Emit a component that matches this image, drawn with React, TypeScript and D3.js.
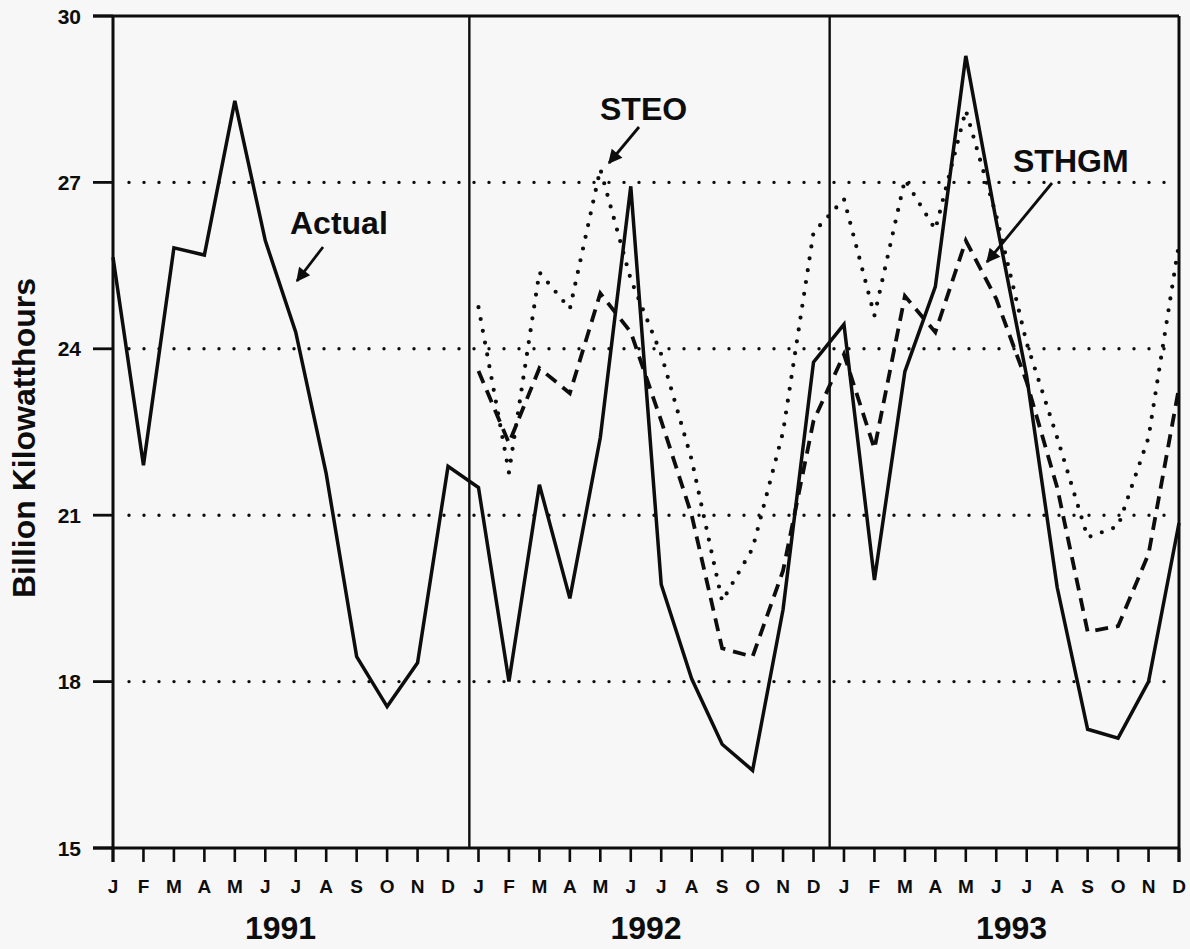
import React from 'react';
import * as d3 from 'd3';

const months = ['J', 'F', 'M', 'A', 'M', 'J', 'J', 'A', 'S', 'O', 'N', 'D'];
const years = ['1991', '1992', '1993'];
const yTicks = [15, 18, 21, 24, 27, 30];
const gridValues = [18, 21, 24, 27];

// Actual, Jan 1991 - Dec 1993
const actual = [
  25.65, 21.9, 25.82, 25.69, 28.47, 25.95, 24.3, 21.75, 18.45, 17.55, 18.34, 21.88,
  21.5, 18.0, 21.55, 19.5, 22.4, 26.93, 19.75, 18.05, 16.87, 16.4, 19.3, 23.76,
  24.44, 19.83, 23.59, 25.12, 29.28, 26.3, 23.5, 19.7, 17.14, 16.98, 18.0, 20.86,
];

// forecasts, Jan 1992 - Dec 1993
const steo = [
  24.75, 21.77, 25.38, 24.72, 27.24, 25.25, 23.9, 22.0, 19.45, 20.4, 22.5, 26.1,
  26.7, 24.6, 27.05, 26.15, 28.3, 26.4, 24.1, 22.4, 20.6, 20.8, 22.4, 25.9,
];
const sthgm = [
  23.6, 22.3, 23.65, 23.2, 25.0, 24.3, 22.7, 21.0, 18.6, 18.45, 20.0, 22.7,
  23.9, 22.2, 24.95, 24.3, 25.95, 24.9, 23.4, 21.5, 18.9, 19.0, 20.3, 23.3,
];

const W = 1190;
const H = 949;
const INK = '#0d0d0d';
const FONT = '"Liberation Sans", Arial, Helvetica, sans-serif';

export default function App() {
  const nMonths = months.length * years.length;
  const x = d3.scaleLinear().domain([0, nMonths - 1]).range([113, 1179]);
  const y = d3.scaleLinear().domain([15, 30]).range([848, 16]);

  const line = d3
    .line<[number, number]>()
    .x(d => x(d[0]))
    .y(d => y(d[1]));

  const actualPts = actual.map((v, i) => [i, v] as [number, number]);
  const steoPts = steo.map((v, i) => [i + 12, v] as [number, number]);
  const sthgmPts = sthgm.map((v, i) => [i + 12, v] as [number, number]);

  const monthIdx = d3.range(nMonths);
  const separators = [11.7, 23.53];
  const left = x(0);
  const right = x(nMonths - 1);

  return (
    <svg
      width={W}
      height={H}
      style={{ position: 'absolute', left: 0, top: 0, background: '#f7f7f7' }}
      fontFamily={FONT}
      fontWeight="bold"
    >
      <defs>
        <marker
          id="arrow"
          viewBox="0 0 10 10"
          refX="9"
          refY="5"
          markerWidth="16"
          markerHeight="14"
          markerUnits="userSpaceOnUse"
          orient="auto"
        >
          <path d="M0,0 L10,5 L0,10 z" fill={INK} />
        </marker>
      </defs>
      <rect width={W} height={H} fill="#f7f7f7" />

      {/* dotted gridlines */}
      {gridValues.map(v => (
        <line
          key={v}
          x1={left + 16}
          x2={right}
          y1={y(v)}
          y2={y(v)}
          stroke={INK}
          strokeWidth={3.4}
          strokeDasharray="0 15"
          strokeLinecap="round"
        />
      ))}

      {/* year separators */}
      {separators.map(s => (
        <line key={s} x1={x(s)} x2={x(s)} y1={y(30)} y2={y(15)} stroke={INK} strokeWidth={2.4} />
      ))}

      {/* frame */}
      <line x1={left - 20} x2={right} y1={y(30)} y2={y(30)} stroke={INK} strokeWidth={3.2} />
      <line x1={left - 20} x2={right} y1={y(15)} y2={y(15)} stroke={INK} strokeWidth={3.2} />
      <line x1={left} x2={left} y1={y(30)} y2={y(15) + 14} stroke={INK} strokeWidth={3} />
      <line x1={right} x2={right} y1={y(30)} y2={y(15) + 14} stroke={INK} strokeWidth={3} />

      {/* y ticks + labels */}
      {yTicks.map(v => (
        <g key={v}>
          <line x1={left - 20} x2={left} y1={y(v)} y2={y(v)} stroke={INK} strokeWidth={2.8} />
          <text x={81} y={y(v) + 7.5} textAnchor="end" fontSize={21} fill={INK}>
            {v}
          </text>
        </g>
      ))}

      {/* x ticks + month labels */}
      {monthIdx.map(i => (
        <g key={i}>
          <line x1={x(i)} x2={x(i)} y1={y(15)} y2={y(15) + 14} stroke={INK} strokeWidth={2.6} />
          <text x={x(i)} y={893} textAnchor="middle" fontSize={19} fill={INK}>
            {months[i % 12]}
          </text>
        </g>
      ))}

      {years.map((yr, k) => (
        <text key={yr} x={x(k * 12 + 5.5)} y={939} textAnchor="middle" fontSize={32} fill={INK}>
          {yr}
        </text>
      ))}

      <text
        transform={`translate(35,${438}) rotate(-90)`}
        textAnchor="middle"
        fontSize={32}
        fill={INK}
      >
        Billion Kilowatthours
      </text>

      {/* series */}
      <path
        d={line(steoPts) || ''}
        fill="none"
        stroke={INK}
        strokeWidth={4.2}
        strokeDasharray="0 12"
        strokeLinecap="round"
      />
      <path
        d={line(sthgmPts) || ''}
        fill="none"
        stroke={INK}
        strokeWidth={3.8}
        strokeDasharray="13 8"
      />
      <path
        d={line(actualPts) || ''}
        fill="none"
        stroke={INK}
        strokeWidth={3.5}
        strokeLinejoin="miter"
      />

      {/* annotations */}
      <text x={290} y={234} fontSize={32} fill={INK}>Actual</text>
      <line x1={323} y1={247} x2={297} y2={281} stroke={INK} strokeWidth={2.8} markerEnd="url(#arrow)" />

      <text x={600} y={120} fontSize={32} fill={INK}>STEO</text>
      <line x1={639} y1={127} x2={609} y2={163} stroke={INK} strokeWidth={2.8} markerEnd="url(#arrow)" />

      <text x={1013} y={172} fontSize={32} fill={INK}>STHGM</text>
      <line x1={1052} y1={183} x2={987} y2={262} stroke={INK} strokeWidth={2.8} markerEnd="url(#arrow)" />
    </svg>
  );
}
